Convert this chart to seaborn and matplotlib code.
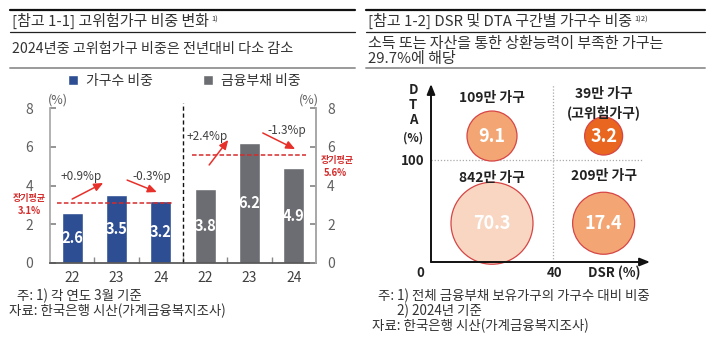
import matplotlib
matplotlib.use("Agg")
import matplotlib.pyplot as plt
import seaborn as sns
import pandas as pd
from matplotlib.lines import Line2D

sns.set_theme(style="white")
plt.rcParams['font.family'] = ['Noto Sans CJK KR', 'DejaVu Sans']
plt.rcParams['axes.unicode_minus'] = False

# ---------------- data ----------------
years = ["22", "23", "24"]
household_share = [2.6, 3.5, 3.2]      # 가구수 비중
debt_share = [3.8, 6.2, 4.9]           # 금융부채 비중
household_avg = 3.1
debt_avg = 5.6
series_names = ["가구수 비중", "금융부채 비중"]
change_labels = ["+0.9%p", "-0.3%p", "+2.4%p", "-1.3%p"]

quad_values = [9.1, 3.2, 70.3, 17.4]
quad_labels = ["109만 가구", "39만 가구\n(고위험가구)", "842만 가구", "209만 가구"]
quad_dsr_side = ["low", "high", "low", "high"]
quad_dta_side = ["high", "high", "low", "low"]
dsr_threshold = 40
dta_threshold = 100

# ---------------- style ----------------
W, H = 710, 342
BLUE = "#2D4E93"
GRAY = "#6C6D72"
RED = "#D42B2B"
TXT = "#333333"
bubble_fill = {"9.1": "#F3A674", "3.2": "#E8661F", "70.3": "#F9D6C2", "17.4": "#F3A674"}
bubble_diam_px = {"9.1": 50, "3.2": 38, "70.3": 82, "17.4": 62}

fig = plt.figure(figsize=(W / 100, H / 100), dpi=100)


def rect(x0, y0, x1, y1):
    return [x0 / W, 1 - y1 / H, (x1 - x0) / W, (y1 - y0) / H]


def ftext(x, y, s, **kw):
    kw.setdefault("ha", "left")
    kw.setdefault("va", "center")
    kw.setdefault("color", TXT)
    return fig.text(x / W, 1 - y / H, s, **kw)


def hline(x0, x1, y, lw, color):
    fig.add_artist(Line2D([x0 / W, x1 / W], [1 - y / H, 1 - y / H], lw=lw, color=color,
                          transform=fig.transFigure))


# ---------------- headers ----------------
for (x0, x1) in [(10, 355), (366, 705)]:
    hline(x0, x1, 10, 1.6, "#111111")
    hline(x0, x1, 32, 0.9, "#222222")
    hline(x0, x1, 68, 1.4, "#9a9a9a")

t1 = ftext(12, 21, "[참고 1-1] 고위험가구 비중 변화", fontsize=10.8)
t2 = ftext(368, 21, "[참고 1-2] DSR 및 DTA 구간별 가구수 비중", fontsize=10.8)
ftext(12, 49, "2024년중 고위험가구 비중은 전년대비 다소 감소", fontsize=10.2)
ftext(368, 44, "소득 또는 자산을 통한 상환능력이 부족한 가구는", fontsize=10.8)
ftext(368, 59, "29.7%에 해당", fontsize=10.8)

# ---------------- left chart ----------------
ax = fig.add_axes(rect(50, 108, 316, 263))
for t, s in [(t1, "1)"), (t2, "1)2)")]:
    ax.annotate(s, xy=(1, 1), xycoords=t, xytext=(1.5, -2), textcoords="offset points",
                ha="left", va="top", fontsize=5.5, color=TXT, annotation_clip=False)

df = pd.DataFrame({
    "pos": [f"a{y}" for y in years] + [f"b{y}" for y in years],
    "val": household_share + debt_share,
    "series": [series_names[0]] * 3 + [series_names[1]] * 3,
})
sns.barplot(data=df, x="pos", y="val", hue="series", palette=[BLUE, GRAY],
            dodge=False, width=0.47, saturation=1, ax=ax)
ax.set_xlim(-0.5, 5.5)
ax.set_ylim(0, 8)
ax.set_xlabel("")
ax.set_ylabel("")
ax.set_xticks(range(6))
ax.set_xticklabels(years + years, fontsize=10, color="#404040")
ax.set_xticks([0.5, 1.5, 2.5, 3.5, 4.5], minor=True)
ax.tick_params(axis="x", which="major", length=0, pad=6)
ax.tick_params(axis="x", which="minor", direction="in", length=4, color="#888888", bottom=True)
ax.set_yticks([0, 2, 4, 6, 8])
ax.tick_params(axis="y", labelsize=10, labelcolor="#606060", direction="in", length=4,
               color="#888888", left=True, pad=12)
ax.spines["top"].set_visible(False)
for s in ["left", "right"]:
    ax.spines[s].set_color("#A8A8A8")
ax.spines["bottom"].set_color("#555555")

ax2 = ax.twinx()
ax2.set_ylim(0, 8)
ax2.set_yticks([0, 2, 4, 6, 8])
ax2.tick_params(axis="y", labelsize=10, labelcolor="#606060", direction="in", length=4,
                color="#888888", pad=8)
for s in ["top", "left", "bottom"]:
    ax2.spines[s].set_visible(False)
ax2.spines["right"].set_color("#A8A8A8")

for i, v in enumerate(household_share + debt_share):
    ax.text(i, v / 2, f"{v:.1f}", ha="center", va="center", color="white",
            fontsize=10.5, fontweight="bold")

ax.axvline(2.5, ymin=0, ymax=1.03, color="#111111", ls=(0, (3, 2)), lw=1, clip_on=False)
ax.hlines(household_avg, -0.34, 2.25, colors=RED, linestyles=(0, (3, 1.5)), lw=1.1)
ax.hlines(debt_avg, 2.7, 5.28, colors=RED, linestyles=(0, (3, 1.5)), lw=1.1)

arrows = [((0.0, 3.30), (0.70, 4.13), (0.21, 4.44)),
          ((1.24, 4.28), (1.91, 3.66), (1.80, 4.49)),
          ((3.09, 5.06), (3.52, 6.35), (3.05, 6.55)),
          ((4.30, 6.71), (5.03, 5.88), (4.85, 6.86))]
for (st, en, tp), lab in zip(arrows, change_labels):
    ax.annotate("", xy=en, xytext=st,
                arrowprops=dict(arrowstyle="-|>,head_length=0.45,head_width=0.2",
                                color="#E8302A", lw=1.1, shrinkA=0, shrinkB=0))
    ax.text(tp[0], tp[1], lab, ha="center", va="center", fontsize=8.5, color="#404040")

sns.move_legend(ax, "center", bbox_to_anchor=(184 / W, 1 - 81 / H),
                bbox_transform=fig.transFigure, ncol=2, frameon=False, title=None,
                fontsize=10, handlelength=0.75, handleheight=0.75, handletextpad=0.55,
                columnspacing=3.6)
for t in ax.get_legend().get_texts():
    t.set_color("#333333")

ftext(58, 100, "(%)", fontsize=9, color="#606060", ha="center")
ftext(309, 100, "(%)", fontsize=9, color="#606060", ha="center")
ftext(29, 198, "장기평균", fontsize=6.5, color=RED, fontweight="bold", ha="center")
ftext(29, 211, f"{household_avg}%", fontsize=6.8, color=RED, fontweight="bold", ha="center")
ftext(337, 160, "장기평균", fontsize=6.5, color=RED, fontweight="bold", ha="center")
ftext(335, 173, f"{debt_avg}%", fontsize=6.8, color=RED, fontweight="bold", ha="center")

ftext(17, 296, "주: 1) 각 연도 3월 기준", fontsize=9.7)
ftext(9, 311, "자료: 한국은행 시산(가계금융복지조사)", fontsize=9.7)

# ---------------- right chart ----------------
bx = fig.add_axes(rect(431, 84, 650, 262))
xmax = (650 - 431) / 122 * dsr_threshold
ymax = (262 - 84) / 102 * dta_threshold
bx.set_xlim(0, xmax)
bx.set_ylim(0, ymax)
bx.axis("off")

side_x = {"low": dsr_threshold * 0.5, "high": dsr_threshold * 1.415}
side_y = {"low": dta_threshold * 0.38, "high": dta_threshold * 1.235}
keys = [f"{v}" for v in quad_values]
bdf = pd.DataFrame({
    "dsr": [side_x[s] for s in quad_dsr_side],
    "dta": [side_y[s] for s in quad_dta_side],
    "key": keys,
    "val": quad_values,
})
sizes = {k: (bubble_diam_px[k] * 0.72) ** 2 for k in keys}
sns.scatterplot(data=bdf, x="dsr", y="dta", hue="key", size="key", sizes=sizes,
                palette=bubble_fill, edgecolor="#D64545", linewidth=0.9, legend=False,
                ax=bx, zorder=3, clip_on=False)
bx.axvline(dsr_threshold, color="#AAAAAA", ls=(0, (1, 1.5)), lw=0.9, zorder=1)
bx.hlines(dta_threshold, 0, xmax * 0.97, color="#AAAAAA", linestyles=(0, (1, 1.5)), lw=0.9,
          zorder=1)
bx.annotate("", xy=(1.0, 0), xytext=(0, 0), xycoords="axes fraction",
            arrowprops=dict(arrowstyle="-|>,head_length=0.5,head_width=0.2", color="#111111",
                            lw=1.4, shrinkA=0, shrinkB=0))
bx.annotate("", xy=(0, 1.0), xytext=(0, 0), xycoords="axes fraction",
            arrowprops=dict(arrowstyle="-|>,head_length=0.5,head_width=0.2", color="#111111",
                            lw=1.4, shrinkA=0, shrinkB=0))

for (_, r), lab in zip(bdf.iterrows(), quad_labels):
    bx.text(r.dsr, r.dta, f"{r.val:.1f}", ha="center", va="center", color="white",
            fontsize=13, fontweight="bold", zorder=4)

label_offsets = {"109만 가구": 37, "39만 가구\n(고위험가구)": 32, "842만 가구": 44,
                 "209만 가구": 46}
for (_, r), lab in zip(bdf.iterrows(), quad_labels):
    bx.text(r.dsr, r.dta + label_offsets[lab], lab, ha="center", va="center", color="#222222",
            fontsize=10, fontweight="bold", linespacing=1.35)

for ch, yy in zip(["D", "T", "A"], [90, 105, 120]):
    ftext(413, yy, ch, fontsize=9.5, fontweight="bold", ha="center", color="#222222")
ftext(413, 138, "(%)", fontsize=8.5, fontweight="bold", ha="center", color="#222222")
ftext(413, 161, f"{dta_threshold}", fontsize=9.5, fontweight="bold", ha="center", color="#222222")
ftext(420, 273, "0", fontsize=9.5, fontweight="bold", ha="center", color="#222222")
ftext(555, 273, f"{dsr_threshold}", fontsize=9.5, fontweight="bold", ha="center", color="#222222")
ftext(614, 273, "DSR (%)", fontsize=9.5, fontweight="bold", ha="center", color="#222222")

ftext(378, 296, "주: 1) 전체 금융부채 보유가구의 가구수 대비 비중", fontsize=9.7)
ftext(397, 311, "2) 2024년 기준", fontsize=9.7)
ftext(372, 326, "자료: 한국은행 시산(가계금융복지조사)", fontsize=9.7)

fig.savefig("out.png", dpi=100)
